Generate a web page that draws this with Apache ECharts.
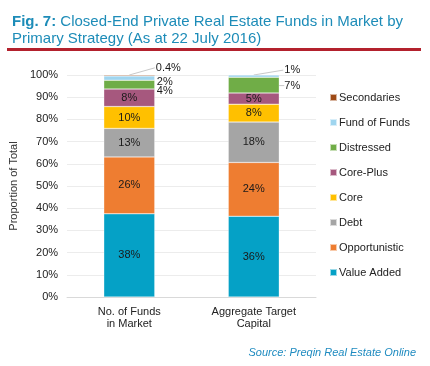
<!DOCTYPE html>
<html>
<head>
<meta charset="utf-8">
<script src="https://cdn.jsdelivr.net/npm/echarts@6/dist/echarts.min.js"></script>
<style>html,body{margin:0;padding:0;background:#fff}#c{width:430px;height:366px}</style>
</head>
<body>
<div id="c"></div>
<script>
// ---- data ----
const categories = ['No. of Funds\nin Market', 'Aggregate Target\nCapital'];
const strategies = ['Value Added', 'Opportunistic', 'Debt', 'Core', 'Core-Plus', 'Distressed', 'Fund of Funds', 'Secondaries'];
const valueAdded   = [38, 36];
const opportunistic = [26, 24];
const debt         = [13, 18];
const core         = [10, 8];
const corePlus     = [8, 5];
const distressed   = [4, 7];
const fundOfFunds  = [2, 1];
const secondaries  = [0.4, 0];
const yTickValues  = [0, 10, 20, 30, 40, 50, 60, 70, 80, 90, 100];

// ---- styling ----
const FONT = 'Liberation Sans';
const BAR_W = 51;
const colors = ['#05a1c6', '#ee7d31', '#a5a5a5', '#ffc000', '#a6587e', '#70ad47', '#9fd5ef', '#9e4a16'];
const seriesValues = [valueAdded, opportunistic, debt, core, corePlus, distressed, fundOfFunds, secondaries];
// labels drawn outside the bar: gap, vertical shift & leader line type
// line: 'edge' = short ECharts guide line, 'top' = line from top centre of the bar
const outside = {
  5: {0: {gap: 2, dy: 6.5, line: null}, 1: {gap: 5, dy: 0.5, line: 'edge'}},
  6: {0: {gap: 2, dy: 3.5, line: null}, 1: {gap: 5, dy: -6, line: 'top'}},
  7: {0: {gap: 1, dy: -7.6, line: 'top'}}
};

const totals = categories.map((_, i) => seriesValues.reduce((s, arr) => s + arr[i], 0));
const shares = seriesValues.map(arr => arr.map((v, ci) => v / totals[ci] * 100));

const series = strategies.map((name, si) => ({
  name: name,
  type: 'bar',
  stack: 'total',
  barWidth: BAR_W,
  itemStyle: {color: colors[si], borderColor: 'rgba(255,255,255,0.6)', borderWidth: 0.5},
  label: {
    show: true,
    position: 'inside',
    fontFamily: FONT,
    fontSize: 11,
    color: '#1a1a1a',
    formatter: p => seriesValues[si][p.dataIndex] + '%'
  },
  labelLine: {show: !!outside[si], length2: 0, lineStyle: {color: '#c8c8c8', width: 1}},
  labelLayout: function (params) {
    const o = outside[si] && outside[si][params.dataIndex];
    if (!o) return {};
    const r = params.rect;
    return {
      x: r.x + r.width + o.gap,
      y: r.y + r.height / 2 + o.dy,
      align: 'left',
      verticalAlign: 'middle'
    };
  },
  data: shares[si].map((v, ci) => {
    const o = outside[si] && outside[si][ci];
    const item = {value: v};
    if (seriesValues[si][ci] === 0) item.label = {show: false};
    else if (o) {
      item.label = {position: 'right'};
      item.labelLine = {show: o.line === 'edge'};
    }
    return item;
  })
}));

const chart = echarts.init(document.getElementById('c'), null, {renderer: 'canvas'});
const baseGraphic = [{
  type: 'rect', left: 7, top: 48, shape: {width: 414, height: 3},
  style: {fill: '#b3212d'}
}];
chart.setOption({
  animation: false,
  backgroundColor: '#fff',
  title: [{
    text: '{b|Fig. 7:} Closed-End Private Real Estate Funds in Market by\nPrimary Strategy (As at 22 July 2016)',
    left: 7, top: 8,
    textStyle: {
      fontFamily: FONT, fontSize: 15, fontWeight: 'normal', color: '#1d8cb8', lineHeight: 17,
      rich: {b: {fontFamily: FONT, fontSize: 15, fontWeight: 'bold', color: '#1d8cb8'}}
    }
  }, {
    text: 'Source: Preqin Real Estate Online',
    right: 9, top: 342,
    textStyle: {fontFamily: FONT, fontSize: 11, fontStyle: 'italic', fontWeight: 'normal', color: '#1f8bc0'}
  }],
  graphic: baseGraphic,
  legend: {
    orient: 'vertical',
    left: 324, top: 87,
    itemWidth: 7, itemHeight: 7, itemGap: 14,
    icon: 'rect',
    data: strategies.slice().reverse(),
    textStyle: {fontFamily: FONT, fontSize: 11, color: '#222', padding: [0, 0, 0, -3]}
  },
  grid: {left: 63, right: 114, top: 75, bottom: 69, containLabel: false},
  xAxis: {
    type: 'category',
    data: categories,
    axisLine: {lineStyle: {color: '#d9d9d9'}},
    axisTick: {show: false},
    axisLabel: {fontFamily: FONT, fontSize: 11, color: '#222', margin: 9, lineHeight: 12}
  },
  yAxis: {
    type: 'value',
    min: yTickValues[0], max: yTickValues[yTickValues.length - 1], interval: 10,
    name: 'Proportion of Total',
    nameLocation: 'middle', nameGap: 46,
    nameTextStyle: {fontFamily: FONT, fontSize: 11, color: '#333'},
    axisLine: {show: false},
    axisTick: {show: false},
    splitLine: {lineStyle: {color: '#ececec'}},
    axisLabel: {fontFamily: FONT, fontSize: 11, color: '#222', formatter: '{value}%', margin: 9}
  },
  series: series
});

// leader lines from the top centre of a bar to its outside label, via the chart's own scales
const leaders = [];
Object.keys(outside).forEach(si => {
  Object.keys(outside[si]).forEach(ci => {
    const o = outside[si][ci];
    if (o.line !== 'top') return;
    si = +si; ci = +ci;
    let below = 0;
    for (let k = 0; k < si; k++) below += shares[k][ci];
    const top = chart.convertToPixel({gridIndex: 0}, [ci, 100]);
    const mid = chart.convertToPixel({gridIndex: 0}, [ci, below + shares[si][ci] / 2]);
    leaders.push({
      type: 'line', silent: true,
      shape: {x1: top[0], y1: top[1], x2: top[0] + BAR_W / 2 + o.gap - 1, y2: mid[1] + o.dy},
      style: {stroke: '#c8c8c8', lineWidth: 1}
    });
  });
});
chart.setOption({graphic: baseGraphic.concat(leaders)});
</script>
</body>
</html>
